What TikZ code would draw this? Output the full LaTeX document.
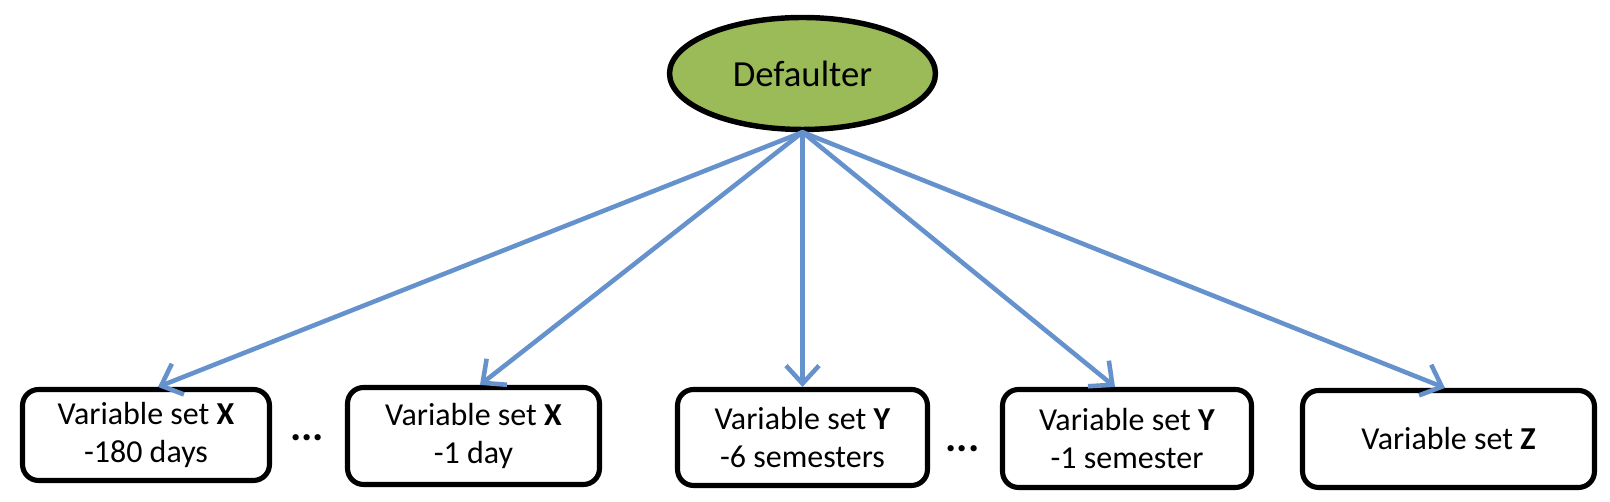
\documentclass[tikz,border=0pt]{standalone}
\usepackage{fontspec}
\setmainfont{Carlito}
\usetikzlibrary{shapes.geometric,arrows.meta}
\definecolor{defgreen}{HTML}{9BBB59}
\definecolor{arrblue}{HTML}{6592CD}
\begin{document}
\begin{tikzpicture}[x=0.02cm, y=-0.02cm, line join=round, line cap=round,
	varbox/.style={draw, line width=2.9pt, rounded corners=0.32cm, align=center, inner sep=0pt, font=\fontsize{18.2}{21.6}\selectfont},
	dotsnode/.style={anchor=base, inner sep=0pt, font=\fontsize{24}{28}\selectfont\bfseries},
	arr/.style={draw=arrblue, line width=2.6pt, -{Straight Barb[length=0.36cm, width=0.66cm, line width=2.6pt]}}]
	\useasboundingbox (0,0) rectangle (1610,502);
	\node[ellipse, draw, line width=3.1pt, fill=defgreen, minimum width=5.32cm, minimum height=2.24cm, font=\fontsize{20.9}{25}\selectfont] (def) at (802.5,73.5) {Defaulter};
	\node[varbox, minimum width=4.94cm, minimum height=1.82cm] (xa) at (146,435) {Variable set \textbf{X}\\-180 days};
	\node[varbox, minimum width=5.04cm, minimum height=1.94cm] (xb) at (473.5,436) {Variable set \textbf{X}\\-1 day};
	\node[varbox, minimum width=5.0cm, minimum height=1.92cm] (ya) at (802.5,437.5) {Variable set \textbf{Y}\\-6 semesters};
	\node[varbox, minimum width=4.98cm, minimum height=1.96cm] (yb) at (1127,438.5) {Variable set \textbf{Y}\\-1 semester};
	\node[varbox, minimum width=5.84cm, minimum height=1.94cm] (za) at (1448.5,439) {Variable set \textbf{Z}};
	\node[dotsnode] (dotsx) at (307,441) {...};
	\node[dotsnode] (dotsy) at (962.5,452) {...};
	\draw[arr] (def.south) -- ([xshift=0.24cm]xa.north);
	\draw[arr] (def.south) -- ([xshift=0.13cm]xb.north);
	\draw[arr] (def.south) -- (ya.north);
	\draw[arr] (def.south) -- ([xshift=-0.24cm]yb.north);
	\draw[arr] (def.south) -- ([xshift=-0.07cm]za.north);
\end{tikzpicture}
\end{document}
